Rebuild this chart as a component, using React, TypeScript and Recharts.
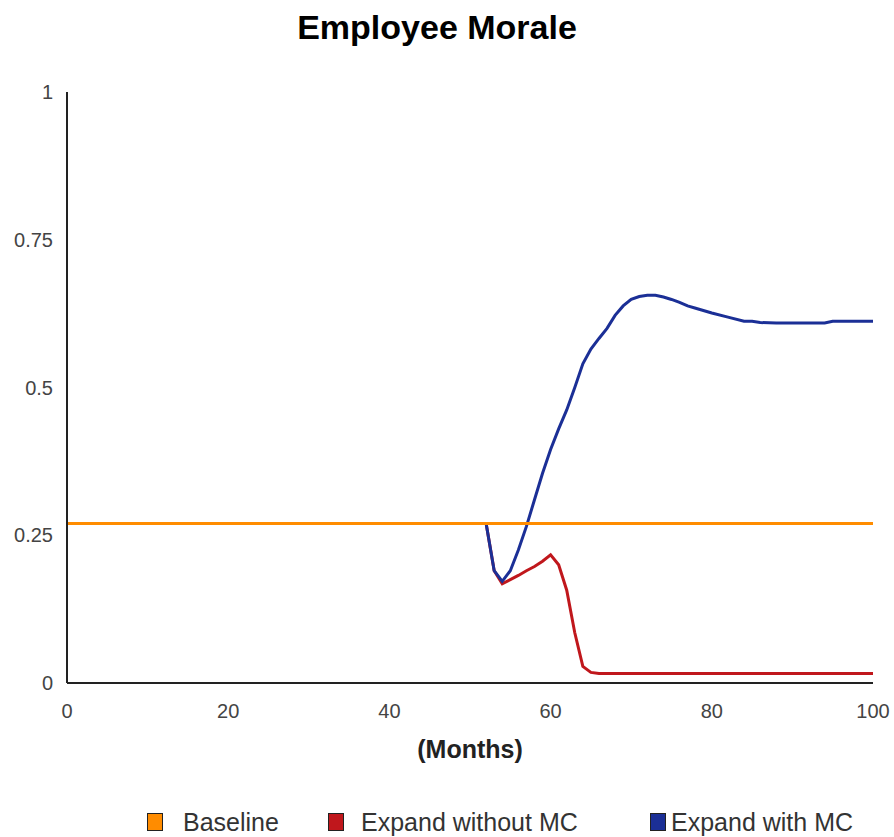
import React from 'react';
import { LineChart, Line, XAxis, YAxis } from 'recharts';

const chartTitle = 'Employee Morale';
const xAxisTitle = '(Months)';
const xTicks = [0, 20, 40, 60, 80, 100];
const yTicks = [0, 0.25, 0.5, 0.75, 1];

const seriesNames = ['Baseline', 'Expand without MC', 'Expand with MC'];
const seriesColors = ['#ff8c00', '#c0171c', '#1b2f96'];

const baselineMonths = [0, 100];
const baselineValues = [0.27, 0.27];

const withoutMcMonths = [0, 52, 53, 54, 55, 56, 57, 58, 59, 60, 61, 62, 63, 64, 65, 66, 100];
const withoutMcValues = [0.27, 0.27, 0.19, 0.168, 0.175, 0.182, 0.19, 0.197, 0.206, 0.217, 0.2, 0.157, 0.085, 0.028, 0.018, 0.016, 0.016];

const withMcMonths = [0, 52, 53, 54, 55, 56, 57, 58, 59, 60, 61, 62, 63, 64, 65, 66, 67, 68, 69, 70, 71, 72, 73, 74, 75, 76, 77, 78, 80, 82, 84, 85, 86, 88, 90, 92, 94, 95, 100];
const withMcValues = [0.27, 0.27, 0.19, 0.172, 0.19, 0.225, 0.265, 0.31, 0.355, 0.395, 0.43, 0.462, 0.5, 0.54, 0.565, 0.583, 0.6, 0.622, 0.638, 0.649, 0.654, 0.656, 0.656, 0.653, 0.649, 0.644, 0.638, 0.634, 0.626, 0.619, 0.612, 0.612, 0.61, 0.609, 0.609, 0.609, 0.609, 0.612, 0.612];

const toPoints = (months: number[], values: number[]) => months.map((m, i) => ({ m, v: values[i] }));

const baselineData = toPoints(baselineMonths, baselineValues);
const withoutMcData = toPoints(withoutMcMonths, withoutMcValues);
const withMcData = toPoints(withMcMonths, withMcValues);

const FONT = '"Liberation Sans", Arial, Helvetica, sans-serif';
const legendLefts = [147, 328, 650];
const legendTextGaps = [20, 17, 5];

export default function App() {
  return (
    <div style={{ position: 'absolute', left: 0, top: 0, width: 894, height: 837, background: '#fff', fontFamily: FONT }}>
      <div style={{ position: 'absolute', left: 0, top: 10, width: 874, textAlign: 'center', fontSize: 34, lineHeight: '34px', fontWeight: 'bold', color: '#000' }}>
        {chartTitle}
      </div>
      <LineChart width={894} height={837} margin={{ top: 92, right: 21, bottom: 74, left: 0 }}>
        <XAxis
          type="number"
          dataKey="m"
          domain={[0, 100]}
          ticks={xTicks}
          tickLine={false}
          tickMargin={15}
          height={80}
          axisLine={{ stroke: '#222', strokeWidth: 2 }}
          tick={{ fill: '#444', fontSize: 20, fontFamily: FONT }}
          label={{ value: xAxisTitle, position: 'insideBottom', offset: 5, fill: '#222', fontSize: 25, fontWeight: 'bold', fontFamily: FONT }}
        />
        <YAxis
          type="number"
          domain={[0, 1]}
          ticks={yTicks}
          width={67}
          tickLine={false}
          tickMargin={8}
          axisLine={{ stroke: '#222', strokeWidth: 2 }}
          tick={{ fill: '#444', fontSize: 20, fontFamily: FONT }}
        />
        <Line data={withoutMcData} dataKey="v" name={seriesNames[1]} type="linear" stroke={seriesColors[1]} strokeWidth={3} dot={false} isAnimationActive={false} />
        <Line data={withMcData} dataKey="v" name={seriesNames[2]} type="linear" stroke={seriesColors[2]} strokeWidth={3} dot={false} isAnimationActive={false} />
        <Line data={baselineData} dataKey="v" name={seriesNames[0]} type="linear" stroke={seriesColors[0]} strokeWidth={3} dot={false} isAnimationActive={false} />
      </LineChart>
      {seriesNames.map((name, i) => (
        <div key={name} style={{ position: 'absolute', left: legendLefts[i], top: 809, height: 26, display: 'flex', alignItems: 'center' }}>
          <div style={{ width: 16, height: 18, background: seriesColors[i], border: '1px solid #222', boxSizing: 'border-box' }} />
          <span style={{ marginLeft: legendTextGaps[i], fontSize: 25, lineHeight: '26px', color: '#333' }}>{name}</span>
        </div>
      ))}
    </div>
  );
}
